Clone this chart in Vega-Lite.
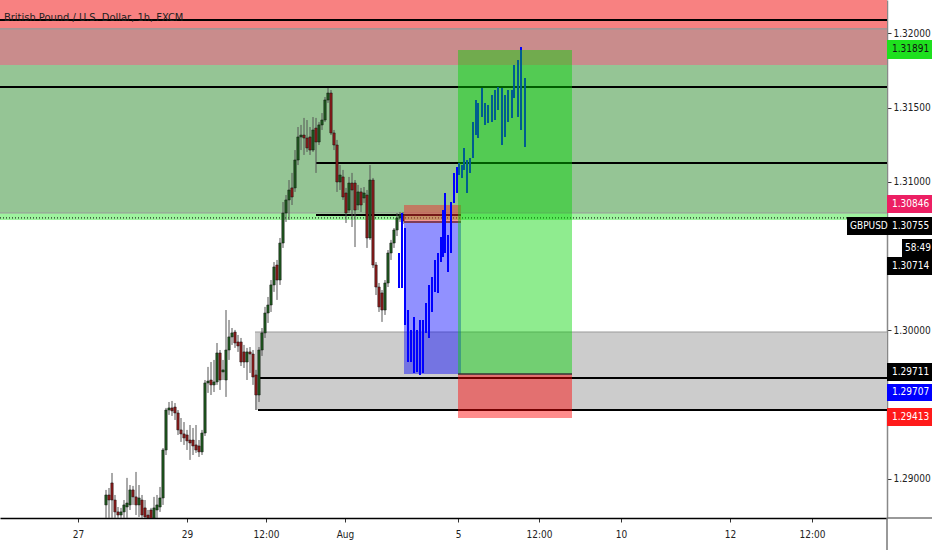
{
  "$schema": "https://vega.github.io/schema/vega-lite/v6.json",
  "width": 887,
  "height": 518,
  "autosize": {"type": "none"},
  "padding": {"left": 0, "top": 0, "right": 45, "bottom": 32},
  "background": "#ffffff",
  "config": {"view": {"stroke": null}, "scale": {"continuousPadding": 0}},
  "title": {"text": "British Pound / U.S. Dollar, 1h, FXCM", "anchor": "start", "frame": "group", "offset": -34, "dx": 4, "fontSize": 11, "fontWeight": "normal", "font": "Liberation Sans Narrow, DejaVu Sans Condensed, sans-serif", "color": "#222222", "baseline": "bottom"},
  "datasets": {
    "candles": [
      {"t":106,"o":1.28825,"h":1.28926,"l":1.28724,"c":1.28892},
      {"t":109,"o":1.28892,"h":1.28939,"l":1.28737,"c":1.28858},
      {"t":112,"o":1.28973,"h":1.29040,"l":1.28724,"c":1.28858},
      {"t":115,"o":1.28858,"h":1.28892,"l":1.28724,"c":1.28778},
      {"t":118,"o":1.28778,"h":1.28811,"l":1.28724,"c":1.28757},
      {"t":121,"o":1.28757,"h":1.28805,"l":1.28724,"c":1.28778},
      {"t":124,"o":1.28778,"h":1.28858,"l":1.28724,"c":1.28825},
      {"t":127,"o":1.28811,"h":1.29007,"l":1.28737,"c":1.28838},
      {"t":130,"o":1.28825,"h":1.28959,"l":1.28791,"c":1.28926},
      {"t":133,"o":1.28926,"h":1.28953,"l":1.28825,"c":1.28879},
      {"t":136,"o":1.28879,"h":1.29047,"l":1.28757,"c":1.28825},
      {"t":139,"o":1.28825,"h":1.28959,"l":1.28744,"c":1.28872},
      {"t":142,"o":1.28858,"h":1.28892,"l":1.28724,"c":1.28757},
      {"t":145,"o":1.28805,"h":1.28858,"l":1.28710,"c":1.28744},
      {"t":148,"o":1.28757,"h":1.28791,"l":1.28690,"c":1.28737},
      {"t":151,"o":1.28791,"h":1.28805,"l":1.28690,"c":1.28724},
      {"t":154,"o":1.28737,"h":1.28879,"l":1.28710,"c":1.28805},
      {"t":157,"o":1.28791,"h":1.28892,"l":1.28724,"c":1.28825},
      {"t":160,"o":1.28811,"h":1.28946,"l":1.28778,"c":1.28872},
      {"t":163,"o":1.28872,"h":1.29208,"l":1.28825,"c":1.29195},
      {"t":166,"o":1.29195,"h":1.29478,"l":1.29161,"c":1.29464},
      {"t":169,"o":1.29464,"h":1.29518,"l":1.29431,"c":1.29478},
      {"t":172,"o":1.29478,"h":1.29525,"l":1.29424,"c":1.29458},
      {"t":175,"o":1.29484,"h":1.29511,"l":1.29397,"c":1.29444},
      {"t":178,"o":1.29444,"h":1.29464,"l":1.29296,"c":1.29330},
      {"t":181,"o":1.29330,"h":1.29410,"l":1.29249,"c":1.29303},
      {"t":184,"o":1.29303,"h":1.29383,"l":1.29229,"c":1.29276},
      {"t":187,"o":1.29296,"h":1.29330,"l":1.29195,"c":1.29256},
      {"t":190,"o":1.29262,"h":1.29363,"l":1.29128,"c":1.29242},
      {"t":193,"o":1.29262,"h":1.29343,"l":1.29161,"c":1.29222},
      {"t":196,"o":1.29229,"h":1.29363,"l":1.29175,"c":1.29195},
      {"t":199,"o":1.29222,"h":1.29262,"l":1.29148,"c":1.29182},
      {"t":202,"o":1.29182,"h":1.29330,"l":1.29161,"c":1.29309},
      {"t":205,"o":1.29309,"h":1.29666,"l":1.29289,"c":1.29646},
      {"t":208,"o":1.29646,"h":1.29754,"l":1.29579,"c":1.29659},
      {"t":211,"o":1.29666,"h":1.29787,"l":1.29565,"c":1.29633},
      {"t":214,"o":1.29633,"h":1.29801,"l":1.29585,"c":1.29653},
      {"t":217,"o":1.29653,"h":1.29915,"l":1.29633,"c":1.29848},
      {"t":220,"o":1.29848,"h":1.29868,"l":1.29599,"c":1.29666},
      {"t":223,"o":1.29720,"h":1.29801,"l":1.29666,"c":1.29734},
      {"t":226,"o":1.29666,"h":1.30137,"l":1.29552,"c":1.29868},
      {"t":229,"o":1.29868,"h":1.30070,"l":1.29801,"c":1.29956},
      {"t":232,"o":1.29956,"h":1.30016,"l":1.29902,"c":1.29983},
      {"t":235,"o":1.29989,"h":1.30003,"l":1.29882,"c":1.29915},
      {"t":238,"o":1.29922,"h":1.29969,"l":1.29855,"c":1.29895},
      {"t":241,"o":1.29922,"h":1.29949,"l":1.29760,"c":1.29787},
      {"t":244,"o":1.29855,"h":1.29902,"l":1.29747,"c":1.29787},
      {"t":247,"o":1.29787,"h":1.29882,"l":1.29666,"c":1.29855},
      {"t":250,"o":1.29855,"h":1.29888,"l":1.29713,"c":1.29841},
      {"t":253,"o":1.29841,"h":1.29868,"l":1.29633,"c":1.29686},
      {"t":256,"o":1.29700,"h":1.29734,"l":1.29464,"c":1.29565},
      {"t":259,"o":1.29565,"h":1.29888,"l":1.29518,"c":1.29868},
      {"t":262,"o":1.29868,"h":1.30016,"l":1.29828,"c":1.29983},
      {"t":265,"o":1.29983,"h":1.30158,"l":1.29949,"c":1.30117},
      {"t":268,"o":1.30117,"h":1.30225,"l":1.30050,"c":1.30171},
      {"t":271,"o":1.30171,"h":1.30339,"l":1.30124,"c":1.30306},
      {"t":274,"o":1.30306,"h":1.30460,"l":1.30259,"c":1.30427},
      {"t":277,"o":1.30440,"h":1.30474,"l":1.30205,"c":1.30339},
      {"t":280,"o":1.30339,"h":1.30622,"l":1.30306,"c":1.30588},
      {"t":283,"o":1.30588,"h":1.30864,"l":1.30555,"c":1.30790},
      {"t":286,"o":1.30790,"h":1.30911,"l":1.30730,"c":1.30878},
      {"t":289,"o":1.30878,"h":1.31012,"l":1.30743,"c":1.30945},
      {"t":292,"o":1.30959,"h":1.31060,"l":1.30844,"c":1.30898},
      {"t":295,"o":1.30959,"h":1.31214,"l":1.30932,"c":1.31147},
      {"t":298,"o":1.31147,"h":1.31369,"l":1.31113,"c":1.31302},
      {"t":301,"o":1.31302,"h":1.31383,"l":1.31214,"c":1.31315},
      {"t":304,"o":1.31315,"h":1.31430,"l":1.31181,"c":1.31295},
      {"t":307,"o":1.31295,"h":1.31416,"l":1.31201,"c":1.31228},
      {"t":310,"o":1.31302,"h":1.31369,"l":1.31181,"c":1.31214},
      {"t":313,"o":1.31214,"h":1.31436,"l":1.31201,"c":1.31349},
      {"t":316,"o":1.31362,"h":1.31430,"l":1.31060,"c":1.31268},
      {"t":319,"o":1.31268,"h":1.31403,"l":1.31248,"c":1.31383},
      {"t":322,"o":1.31383,"h":1.31463,"l":1.31349,"c":1.31416},
      {"t":325,"o":1.31416,"h":1.31571,"l":1.31403,"c":1.31551},
      {"t":328,"o":1.31551,"h":1.31632,"l":1.31531,"c":1.31598},
      {"t":331,"o":1.31598,"h":1.31618,"l":1.31315,"c":1.31329},
      {"t":334,"o":1.31329,"h":1.31349,"l":1.31214,"c":1.31248},
      {"t":337,"o":1.31248,"h":1.31282,"l":1.30932,"c":1.30999},
      {"t":340,"o":1.30999,"h":1.31113,"l":1.30945,"c":1.31046},
      {"t":343,"o":1.31033,"h":1.31080,"l":1.30878,"c":1.30898},
      {"t":346,"o":1.30925,"h":1.30959,"l":1.30723,"c":1.30790},
      {"t":349,"o":1.30810,"h":1.31033,"l":1.30790,"c":1.30992},
      {"t":352,"o":1.30992,"h":1.31060,"l":1.30696,"c":1.30945},
      {"t":355,"o":1.30992,"h":1.31012,"l":1.30561,"c":1.30810},
      {"t":358,"o":1.30844,"h":1.30979,"l":1.30810,"c":1.30932},
      {"t":361,"o":1.30932,"h":1.30959,"l":1.30797,"c":1.30844},
      {"t":364,"o":1.30891,"h":1.30965,"l":1.30858,"c":1.30925},
      {"t":367,"o":1.30911,"h":1.30945,"l":1.30555,"c":1.30622},
      {"t":370,"o":1.30622,"h":1.31113,"l":1.30609,"c":1.31012},
      {"t":373,"o":1.31012,"h":1.31026,"l":1.30420,"c":1.30440},
      {"t":376,"o":1.30440,"h":1.30460,"l":1.30238,"c":1.30292},
      {"t":379,"o":1.30292,"h":1.30319,"l":1.30124,"c":1.30158},
      {"t":382,"o":1.30252,"h":1.30272,"l":1.30057,"c":1.30137},
      {"t":385,"o":1.30137,"h":1.30339,"l":1.30104,"c":1.30319},
      {"t":388,"o":1.30319,"h":1.30541,"l":1.30292,"c":1.30521},
      {"t":391,"o":1.30521,"h":1.30609,"l":1.30474,"c":1.30588},
      {"t":394,"o":1.30588,"h":1.30689,"l":1.30555,"c":1.30676},
      {"t":397,"o":1.30676,"h":1.30790,"l":1.30635,"c":1.30757},
      {"t":400,"o":1.30757,"h":1.30797,"l":1.30730,"c":1.30777},
      {"t":403,"o":1.30777,"h":1.30797,"l":1.30716,"c":1.30736}
    ],
    "projection": [
      {"t":399,"h":1.30521,"l":1.30285},
      {"t":402,"h":1.30790,"l":1.30285},
      {"t":405,"h":1.30689,"l":1.30036},
      {"t":408,"h":1.30137,"l":1.29787},
      {"t":411,"h":1.30003,"l":1.29787},
      {"t":414,"h":1.30090,"l":1.29713},
      {"t":417,"h":1.30003,"l":1.29720},
      {"t":420,"h":1.30070,"l":1.29700},
      {"t":423,"h":1.30070,"l":1.29713},
      {"t":426,"h":1.30184,"l":1.29983},
      {"t":429,"h":1.30306,"l":1.29949},
      {"t":432,"h":1.30360,"l":1.30124},
      {"t":435,"h":1.30474,"l":1.30259},
      {"t":438,"h":1.30521,"l":1.30252},
      {"t":441,"h":1.30629,"l":1.30460},
      {"t":443,"h":1.30810,"l":1.30494},
      {"t":445,"h":1.30925,"l":1.30521},
      {"t":448,"h":1.30642,"l":1.30393},
      {"t":451,"h":1.30864,"l":1.30521},
      {"t":454,"h":1.31060,"l":1.30858},
      {"t":457,"h":1.31100,"l":1.30925},
      {"t":459,"h":1.31127,"l":1.31046},
      {"t":462,"h":1.31113,"l":1.31026},
      {"t":464,"h":1.31228,"l":1.31080},
      {"t":467,"h":1.31147,"l":1.30925},
      {"t":470,"h":1.31161,"l":1.31060},
      {"t":473,"h":1.31403,"l":1.31161},
      {"t":476,"h":1.31551,"l":1.31315},
      {"t":478,"h":1.31531,"l":1.31295},
      {"t":482,"h":1.31632,"l":1.31436},
      {"t":485,"h":1.31531,"l":1.31383},
      {"t":488,"h":1.31517,"l":1.31396},
      {"t":492,"h":1.31585,"l":1.31403},
      {"t":495,"h":1.31618,"l":1.31416},
      {"t":498,"h":1.31638,"l":1.31484},
      {"t":502,"h":1.31632,"l":1.31248},
      {"t":505,"h":1.31585,"l":1.31302},
      {"t":508,"h":1.31618,"l":1.31403},
      {"t":512,"h":1.31618,"l":1.31430},
      {"t":514,"h":1.31786,"l":1.31564},
      {"t":518,"h":1.31820,"l":1.31436},
      {"t":521,"h":1.31908,"l":1.31349},
      {"t":525,"h":1.31699,"l":1.31235}
    ]
  },
  "layer": [
    {
      "data": {"values": [
        {"zone":"supply","t1":0,"t2":887,"p1":1.32224,"p2":1.32036},
        {"zone":"overlap","t1":0,"t2":887,"p1":1.32036,"p2":1.31786},
        {"zone":"demand","t1":0,"t2":887,"p1":1.31786,"p2":1.30790},
        {"zone":"edge","t1":0,"t2":887,"p1":1.30790,"p2":1.30743},
        {"zone":"range","t1":255,"t2":887,"p1":1.29989,"p2":1.29464}
      ]},
      "mark": {"type": "rect"},
      "encoding": {
        "x": {"field": "t1", "type": "quantitative", "scale": {"domain": [0, 887], "nice": false, "zero": false, "padding": 0},
          "axis": {"orient": "bottom", "title": null, "grid": false, "values": [78,187,266,345,458,539,621,730,812],
            "labelExpr": "datum.value==78?'27':datum.value==187?'29':datum.value==266?'12:00':datum.value==345?'Aug':datum.value==458?'5':datum.value==539?'12:00':datum.value==621?'10':datum.value==730?'12':'12:00'",
            "labelFont": "Liberation Sans Narrow, DejaVu Sans Condensed, sans-serif", "labelFontSize": 10, "labelColor": "#222222",
            "domainColor": "#000000", "domainWidth": 1.5, "tickColor": "#333333", "tickSize": 4, "labelPadding": 7, "labelFlush": false, "labelOverlap": false}},
        "x2": {"field": "t2"},
        "y": {"field": "p1", "type": "quantitative", "scale": {"domain": [1.28737, 1.32224], "nice": false, "zero": false, "padding": 0},
          "axis": {"orient": "right", "title": null, "grid": false, "values": [1.29, 1.30, 1.31, 1.315, 1.32], "format": ".5f",
            "labelFont": "Liberation Sans Narrow, DejaVu Sans Condensed, sans-serif", "labelFontSize": 10, "labelColor": "#222222",
            "domainColor": "#888888", "domainWidth": 1.5, "tickColor": "#333333", "tickSize": 4, "labelPadding": 2, "labelOverlap": false}},
        "y2": {"field": "p2"},
        "fill": {"field": "zone", "type": "nominal", "legend": null,
          "scale": {"domain": ["supply","overlap","demand","edge","range"], "range": ["#f88181","#c98c8c","#95c595","#9ef29e","#cccccc"]}}
      }
    },
    {
      "data": {"values": [
        {"t1":0,"t2":887,"p":1.32029},
        {"t1":0,"t2":887,"p":1.30790},
        {"t1":255,"t2":887,"p":1.29989}
      ]},
      "mark": {"type": "rule", "color": "#999999", "strokeWidth": 1.2},
      "encoding": {
        "x": {"field": "t1", "type": "quantitative", "scale": {"domain": [0, 887], "nice": false, "zero": false, "padding": 0}},
        "x2": {"field": "t2"},
        "y": {"field": "p", "type": "quantitative", "scale": {"domain": [1.28737, 1.32224], "nice": false, "zero": false, "padding": 0}}
      }
    },
    {
      "data": {"values": [
        {"t1":0,"t2":887,"p":1.32089},
        {"t1":0,"t2":887,"p":1.31638},
        {"t1":316,"t2":887,"p":1.31127},
        {"t1":316,"t2":461,"p":1.30777},
        {"t1":258,"t2":887,"p":1.29680},
        {"t1":258,"t2":887,"p":1.29464}
      ]},
      "mark": {"type": "rule", "color": "#000000", "strokeWidth": 2},
      "encoding": {
        "x": {"field": "t1", "type": "quantitative", "scale": {"domain": [0, 887], "nice": false, "zero": false, "padding": 0}},
        "x2": {"field": "t2"},
        "y": {"field": "p", "type": "quantitative", "scale": {"domain": [1.28737, 1.32224], "nice": false, "zero": false, "padding": 0}}
      }
    },
    {
      "data": {"values": [{"t1":0,"t2":887,"p":1.30757}]},
      "mark": {"type": "rule", "color": "#000000", "strokeWidth": 1, "strokeDash": [1, 2]},
      "encoding": {
        "x": {"field": "t1", "type": "quantitative", "scale": {"domain": [0, 887], "nice": false, "zero": false, "padding": 0}},
        "x2": {"field": "t2"},
        "y": {"field": "p", "type": "quantitative", "scale": {"domain": [1.28737, 1.32224], "nice": false, "zero": false, "padding": 0}}
      }
    },
    {
      "data": {"name": "candles"},
      "mark": {"type": "rule", "color": "#555555", "strokeWidth": 1, "clip": true},
      "encoding": {
        "x": {"field": "t", "type": "quantitative", "scale": {"domain": [0, 887], "nice": false, "zero": false, "padding": 0}},
        "y": {"field": "l", "type": "quantitative", "scale": {"domain": [1.28737, 1.32224], "nice": false, "zero": false, "padding": 0}},
        "y2": {"field": "h"}
      }
    },
    {
      "data": {"name": "candles"},
      "mark": {"type": "bar", "width": 2.4, "stroke": "#111111", "strokeWidth": 0.5, "clip": true},
      "encoding": {
        "x": {"field": "t", "type": "quantitative", "scale": {"domain": [0, 887], "nice": false, "zero": false, "padding": 0}},
        "y": {"field": "o", "type": "quantitative", "scale": {"domain": [1.28737, 1.32224], "nice": false, "zero": false, "padding": 0}},
        "y2": {"field": "c"},
        "color": {"condition": {"test": "datum.c >= datum.o", "value": "#1f5a1f"}, "value": "#8e1c1c"}
      }
    },
    {
      "data": {"values": [{"t1":404,"t2":461,"p1":1.30736,"p2":1.29707}]},
      "mark": {"type": "rect", "fill": "#0000ff", "opacity": 0.43},
      "encoding": {
        "x": {"field": "t1", "type": "quantitative", "scale": {"domain": [0, 887], "nice": false, "zero": false, "padding": 0}},
        "x2": {"field": "t2"},
        "y": {"field": "p1", "type": "quantitative", "scale": {"domain": [1.28737, 1.32224], "nice": false, "zero": false, "padding": 0}},
        "y2": {"field": "p2"}
      }
    },
    {
      "data": {"values": [{"t1":404,"t2":461,"p1":1.30844,"p2":1.30736}]},
      "mark": {"type": "rect", "fill": "#ee3030", "opacity": 0.5},
      "encoding": {
        "x": {"field": "t1", "type": "quantitative", "scale": {"domain": [0, 887], "nice": false, "zero": false, "padding": 0}},
        "x2": {"field": "t2"},
        "y": {"field": "p1", "type": "quantitative", "scale": {"domain": [1.28737, 1.32224], "nice": false, "zero": false, "padding": 0}},
        "y2": {"field": "p2"}
      }
    },
    {
      "data": {"values": [{"t1":404,"t2":461,"p":1.30730}]},
      "mark": {"type": "rule", "color": "#7a2020", "strokeWidth": 1.5},
      "encoding": {
        "x": {"field": "t1", "type": "quantitative", "scale": {"domain": [0, 887], "nice": false, "zero": false, "padding": 0}},
        "x2": {"field": "t2"},
        "y": {"field": "p", "type": "quantitative", "scale": {"domain": [1.28737, 1.32224], "nice": false, "zero": false, "padding": 0}}
      }
    },
    {
      "data": {"name": "projection"},
      "mark": {"type": "rule", "color": "#0000ff", "strokeWidth": 2},
      "encoding": {
        "x": {"field": "t", "type": "quantitative", "scale": {"domain": [0, 887], "nice": false, "zero": false, "padding": 0}},
        "y": {"field": "l", "type": "quantitative", "scale": {"domain": [1.28737, 1.32224], "nice": false, "zero": false, "padding": 0}},
        "y2": {"field": "h"}
      }
    },
    {
      "data": {"values": [{"t1":458,"t2":572,"p1":1.31887,"p2":1.29707}]},
      "mark": {"type": "rect", "fill": "#00d400", "opacity": 0.44},
      "encoding": {
        "x": {"field": "t1", "type": "quantitative", "scale": {"domain": [0, 887], "nice": false, "zero": false, "padding": 0}},
        "x2": {"field": "t2"},
        "y": {"field": "p1", "type": "quantitative", "scale": {"domain": [1.28737, 1.32224], "nice": false, "zero": false, "padding": 0}},
        "y2": {"field": "p2"}
      }
    },
    {
      "data": {"values": [{"t1":458,"t2":572,"p1":1.29707,"p2":1.29410}]},
      "mark": {"type": "rect", "fill": "#ff0000", "opacity": 0.45},
      "encoding": {
        "x": {"field": "t1", "type": "quantitative", "scale": {"domain": [0, 887], "nice": false, "zero": false, "padding": 0}},
        "x2": {"field": "t2"},
        "y": {"field": "p1", "type": "quantitative", "scale": {"domain": [1.28737, 1.32224], "nice": false, "zero": false, "padding": 0}},
        "y2": {"field": "p2"}
      }
    },
    {
      "data": {"values": [{"t1":458,"t2":572,"p":1.29707}]},
      "mark": {"type": "rule", "color": "#333333", "strokeWidth": 1.5},
      "encoding": {
        "x": {"field": "t1", "type": "quantitative", "scale": {"domain": [0, 887], "nice": false, "zero": false, "padding": 0}},
        "x2": {"field": "t2"},
        "y": {"field": "p", "type": "quantitative", "scale": {"domain": [1.28737, 1.32224], "nice": false, "zero": false, "padding": 0}}
      }
    },
    {
      "data": {"values": [
        {"t1":887,"t2":932,"p1":1.28737,"p2":1.28737},
        {"t1":887,"t2":887,"p1":1.28737,"p2":1.28500}
      ]},
      "mark": {"type": "rule", "color": "#777777", "strokeWidth": 1.5},
      "encoding": {
        "x": {"field": "t1", "type": "quantitative", "scale": {"domain": [0, 887], "nice": false, "zero": false, "padding": 0}},
        "x2": {"field": "t2"},
        "y": {"field": "p1", "type": "quantitative", "scale": {"domain": [1.28737, 1.32224], "nice": false, "zero": false, "padding": 0}},
        "y2": {"field": "p2"}
      }
    },
    {
      "data": {"values": [
        {"kind":"tp","t1":887,"t2":932,"p1":1.31955,"p2":1.31827},
        {"kind":"sl","t1":887,"t2":932,"p1":1.30911,"p2":1.30790},
        {"kind":"last","t1":847,"t2":932,"p1":1.30763,"p2":1.30642},
        {"kind":"last","t1":902,"t2":932,"p1":1.30615,"p2":1.30494},
        {"kind":"last","t1":887,"t2":932,"p1":1.30494,"p2":1.30373},
        {"kind":"last","t1":887,"t2":932,"p1":1.29781,"p2":1.29659},
        {"kind":"entry","t1":887,"t2":932,"p1":1.29639,"p2":1.29525},
        {"kind":"stop","t1":887,"t2":932,"p1":1.29478,"p2":1.29357}
      ]},
      "mark": {"type": "rect"},
      "encoding": {
        "x": {"field": "t1", "type": "quantitative", "scale": {"domain": [0, 887], "nice": false, "zero": false, "padding": 0}},
        "x2": {"field": "t2"},
        "y": {"field": "p1", "type": "quantitative", "scale": {"domain": [1.28737, 1.32224], "nice": false, "zero": false, "padding": 0}},
        "y2": {"field": "p2"},
        "color": {"field": "kind", "type": "nominal", "legend": null,
          "scale": {"domain": ["tp","sl","last","entry","stop"], "range": ["#1ee01e","#ec1f63","#000000","#0000ff","#ff1a1a"]}}
      }
    },
    {
      "data": {"values": [
        {"kind":"tp","tx":892,"p":1.31891,"label":"1.31891"},
        {"kind":"sl","tx":892,"p":1.30851,"label":"1.30846"},
        {"kind":"last","tx":850,"p":1.30703,"label":"GBPUSD"},
        {"kind":"last","tx":892,"p":1.30703,"label":"1.30755"},
        {"kind":"last","tx":905,"p":1.30555,"label":"58:49"},
        {"kind":"last","tx":892,"p":1.30434,"label":"1.30714"},
        {"kind":"last","tx":892,"p":1.29720,"label":"1.29711"},
        {"kind":"entry","tx":892,"p":1.29582,"label":"1.29707"},
        {"kind":"stop","tx":892,"p":1.29417,"label":"1.29413"}
      ]},
      "mark": {"type": "text", "align": "left", "baseline": "middle", "fontSize": 10, "font": "Liberation Sans Narrow, DejaVu Sans Condensed, sans-serif"},
      "encoding": {
        "x": {"field": "tx", "type": "quantitative", "scale": {"domain": [0, 887], "nice": false, "zero": false, "padding": 0}},
        "y": {"field": "p", "type": "quantitative", "scale": {"domain": [1.28737, 1.32224], "nice": false, "zero": false, "padding": 0}},
        "text": {"field": "label"},
        "color": {"condition": {"test": "datum.kind === 'tp'", "value": "#111111"}, "value": "#ffffff"}
      }
    }
  ]
}
